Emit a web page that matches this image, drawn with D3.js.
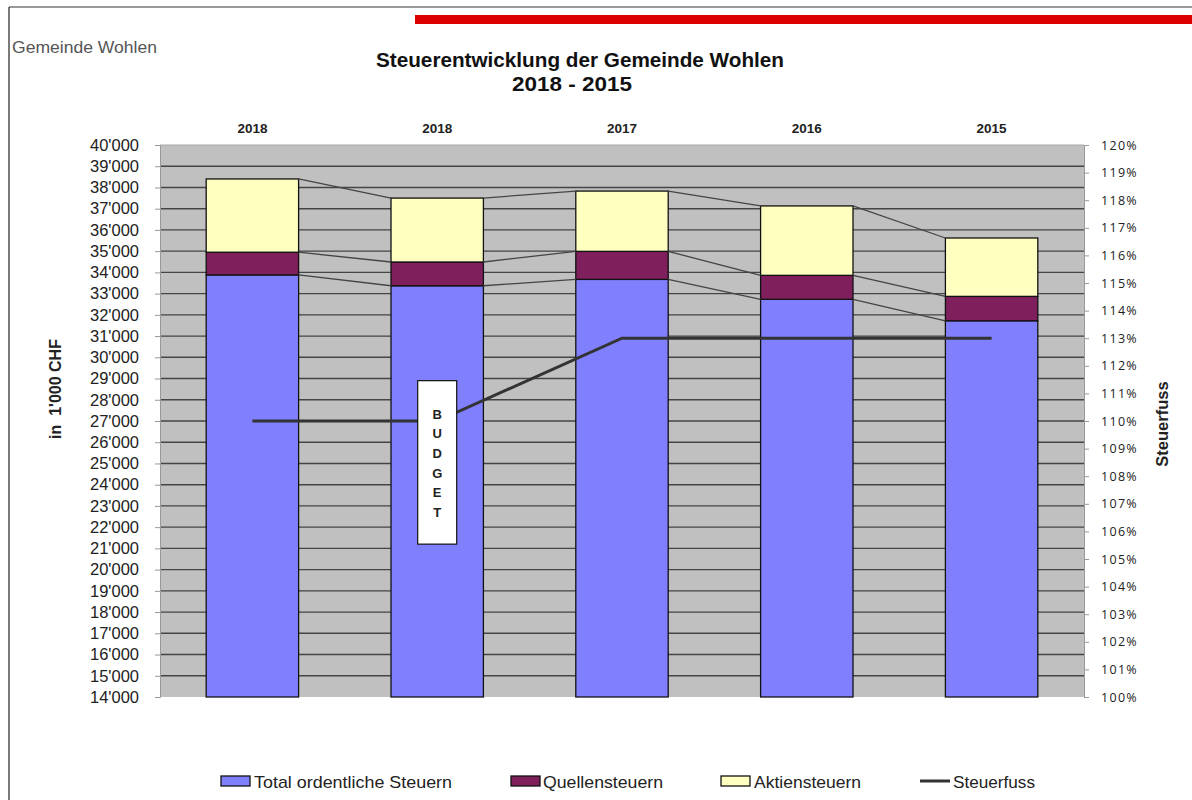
<!DOCTYPE html>
<html><head><meta charset="utf-8">
<script src="https://cdn.jsdelivr.net/npm/d3@7"></script>
<style>body{margin:0;background:#fff;}svg{display:block;}</style>
</head><body>
<svg id="c" width="1192" height="800"></svg>
<script>
// ---- data ----
const categories = ["2018", "2018", "2017", "2016", "2015"];
const totalOrdentlich = [33880, 33370, 33670, 32730, 31720];
const quellensteuern  = [1070, 1120, 1320, 1130, 1150];
const aktiensteuern   = [3450, 3010, 2840, 3270, 2750];
const steuerfuss      = [110, 110, 113, 113, 113];
const leftTicks = d3.range(14000, 40001, 1000);
const rightTicks = d3.range(100, 121, 1);
const seriesNames = ["Total ordentliche Steuern", "Quellensteuern", "Aktiensteuern", "Steuerfuss"];
const budgetIndex = 1;
const budgetLetters = ["B", "U", "D", "G", "E", "T"];

// ---- layout ----
const svg = d3.select("#c");
const L = 160, R = 1084, T = 145, B = 697;
const colors = ["#8080ff", "#7f1f5c", "#ffffc0"];
const fmt = v => { const s = String(v); return s.slice(0, s.length - 3) + "'" + s.slice(-3); };
const FONT = "Liberation Sans, Arial, sans-serif";

const idx = categories.map((d, i) => i);
const x = d3.scaleBand().domain(idx).range([L, R]).paddingInner(0.5).paddingOuter(0.25);
const y = d3.scaleLinear().domain([14000, 40000]).range([B, T]);
const y2 = d3.scaleLinear().domain([100, 120]).range([B, T]);
const bw = x.bandwidth();

// frame
svg.append("line").attr("x1", 9).attr("x2", 1192).attr("y1", 7).attr("y2", 7).attr("stroke", "#777").attr("stroke-width", 1.5);
svg.append("line").attr("x1", 9).attr("x2", 9).attr("y1", 7).attr("y2", 800).attr("stroke", "#222").attr("stroke-width", 1.2);
svg.append("rect").attr("x", 415).attr("y", 15).attr("width", 777).attr("height", 9).attr("fill", "#dd0000");

svg.append("text").attr("x", 12).attr("y", 53).attr("font-family", FONT).attr("font-size", 17)
  .attr("textLength", 145).attr("lengthAdjust", "spacingAndGlyphs").attr("fill", "#555").text("Gemeinde Wohlen");

svg.append("text").attr("x", 580).attr("y", 67).attr("text-anchor", "middle").attr("font-family", FONT).attr("font-weight", "bold")
  .attr("font-size", 20).attr("textLength", 408).attr("lengthAdjust", "spacingAndGlyphs").attr("fill", "#111")
  .text("Steuerentwicklung der Gemeinde Wohlen");
svg.append("text").attr("x", 572).attr("y", 91).attr("text-anchor", "middle").attr("font-family", FONT).attr("font-weight", "bold")
  .attr("font-size", 19.5).attr("textLength", 120).attr("lengthAdjust", "spacingAndGlyphs").attr("fill", "#111")
  .text("2018 - 2015");

// plot background
svg.append("rect").attr("x", L).attr("y", T).attr("width", R - L).attr("height", B - T).attr("fill", "#c0c0c0");
svg.append("line").attr("x1", L).attr("x2", R).attr("y1", T).attr("y2", T).attr("stroke", "#a8a8a8").attr("stroke-width", 1);

// gridlines
svg.append("g").selectAll("line").data(leftTicks.slice(1, -1)).join("line")
  .attr("x1", L).attr("x2", R).attr("y1", d => y(d)).attr("y2", d => y(d))
  .attr("stroke", "#454545").attr("stroke-width", 1.4);

// left axis
const gl = svg.append("g").attr("transform", `translate(${L},0)`)
  .call(d3.axisLeft(y).tickValues(leftTicks).tickFormat(fmt).tickSize(5).tickPadding(16));
gl.select(".domain").attr("stroke", "#999");
gl.selectAll(".tick line").attr("stroke", "#999");
gl.selectAll("text").attr("font-family", FONT).attr("font-size", 16.5).attr("fill", "#222");

// right axis
const gr = svg.append("g").attr("transform", `translate(${R},0)`)
  .call(d3.axisRight(y2).tickValues(rightTicks).tickFormat(d => d + "%").tickSize(5).tickPadding(12));
gr.select(".domain").attr("stroke", "#999");
gr.selectAll(".tick line").attr("stroke", "#999");
gr.selectAll("text").attr("font-family", "Open Sans, sans-serif").attr("font-size", 12.5).attr("letter-spacing", 1.3).attr("fill", "#222");

// axis titles
svg.append("text").attr("transform", "translate(61,389) rotate(-90)").attr("text-anchor", "middle")
  .attr("font-family", FONT).attr("font-weight", "bold").attr("font-size", 16).attr("fill", "#222")
  .style("white-space", "pre").text("in  1'000 CHF");
svg.append("text").attr("transform", "translate(1168,424) rotate(-90)").attr("text-anchor", "middle")
  .attr("font-family", FONT).attr("font-weight", "bold").attr("font-size", 16.5).attr("fill", "#222")
  .text("Steuerfuss");

// category labels on top
svg.append("g").selectAll("text").data(idx).join("text")
  .attr("x", i => x(i) + bw / 2).attr("y", 133).attr("text-anchor", "middle")
  .attr("font-family", FONT).attr("font-weight", "bold").attr("font-size", 13.5).attr("fill", "#222")
  .text(i => categories[i]);

// stacked bars
const rows = idx.map(i => ({ i, total: totalOrdentlich[i], quellen: quellensteuern[i], aktien: aktiensteuern[i] }));
const stacked = d3.stack().keys(["total", "quellen", "aktien"])(rows);
stacked[0].forEach(d => { d[0] = y.domain()[0]; });
svg.append("g").selectAll("g").data(stacked).join("g").attr("fill", (d, k) => colors[k])
  .selectAll("rect").data(d => d).join("rect")
  .attr("x", d => x(d.data.i)).attr("width", bw)
  .attr("y", d => y(d[1])).attr("height", d => y(d[0]) - y(d[1]))
  .attr("stroke", "#111").attr("stroke-width", 1.3);

// series lines
const sl = svg.append("g");
stacked.forEach(layer => {
  for (let j = 0; j < layer.length - 1; j++) {
    sl.append("line")
      .attr("x1", x(j) + bw).attr("x2", x(j + 1))
      .attr("y1", y(layer[j][1])).attr("y2", y(layer[j + 1][1]))
      .attr("stroke", "#444").attr("stroke-width", 1.3);
  }
});

// Steuerfuss line
svg.append("path").datum(idx)
  .attr("d", d3.line().x(i => x(i) + bw / 2).y(i => y2(steuerfuss[i])))
  .attr("fill", "none").attr("stroke", "#333").attr("stroke-width", 3);

// BUDGET box
const bx = x(budgetIndex) + bw / 2;
const bg = svg.append("g");
bg.append("rect").attr("x", bx - 19.5).attr("y", y(28900)).attr("width", 39).attr("height", y(21200) - y(28900))
  .attr("fill", "#fff").attr("stroke", "#111").attr("stroke-width", 1.2);
bg.selectAll("text").data(budgetLetters).join("text")
  .attr("x", bx).attr("y", (d, k) => y(28900) + 38 + k * 19.7).attr("text-anchor", "middle")
  .attr("font-family", FONT).attr("font-weight", "bold").attr("font-size", 13).attr("fill", "#222")
  .text(d => d);

// legend
const legSwatchX = [221, 511, 721, 920];
const legTextX = [254, 543, 754, 953];
const legTextLen = [198, 120, 107, 82];
const lg = svg.append("g");
seriesNames.forEach((name, k) => {
  if (k < 3) {
    lg.append("rect").attr("x", legSwatchX[k]).attr("y", 776).attr("width", 29).attr("height", 10)
      .attr("fill", colors[k]).attr("stroke", "#111").attr("stroke-width", 1.3);
  } else {
    lg.append("line").attr("x1", legSwatchX[k]).attr("x2", legSwatchX[k] + 30).attr("y1", 781).attr("y2", 781)
      .attr("stroke", "#333").attr("stroke-width", 3);
  }
  lg.append("text").attr("x", legTextX[k]).attr("y", 788)
    .attr("font-family", FONT).attr("font-size", 17).attr("textLength", legTextLen[k]).attr("lengthAdjust", "spacingAndGlyphs")
    .attr("fill", "#222").text(name);
});
</script>
</body></html>
